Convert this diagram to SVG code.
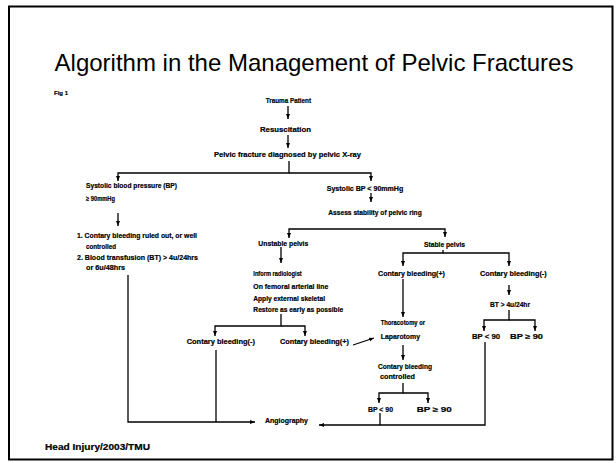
<svg xmlns="http://www.w3.org/2000/svg" width="616" height="463" viewBox="0 0 616 463">
  <style>
    .t{font-family:"Liberation Sans",Arial,sans-serif;font-weight:bold;font-size:7px;fill:#000;stroke:#000;stroke-width:0.2}
    .ttl{font-family:"Liberation Sans",Arial,sans-serif;font-size:24px;fill:#000}
    .c{fill:none;stroke:#000;stroke-width:1.3}
    .a{marker-end:url(#ah)}
  </style>
  <defs>
    <marker id="ah" viewBox="0 0 10 8" markerWidth="5" markerHeight="4.5" refX="10" refY="4" orient="auto" markerUnits="userSpaceOnUse">
      <path d="M0,0L10,4L0,8z" fill="#000"/>
    </marker>
  </defs>

  <!-- page and frame -->
  <rect x="0" y="0" width="616" height="463" fill="#fff"/>
  <rect x="9" y="6.5" width="603.5" height="453" fill="none" stroke="#000" stroke-width="2"/>

  <text class="ttl" x="314" y="71" text-anchor="middle">Algorithm in the Management of Pelvic Fractures</text>
  <text class="t" x="54" y="94.5" style="font-size:6px" textLength="14" lengthAdjust="spacingAndGlyphs">Fig 1</text>

  <!-- connectors -->
  <g id="connectors">
    <path class="c a" d="M288,106V119"/>
    <path class="c a" d="M288,135V148"/>
    <path class="c a" d="M289,161V173H118V181"/>
    <path class="c a" d="M289,173H371V181"/>
    <path class="c a" d="M118,213V226"/>
    <path class="c a" d="M128,275V422H255"/>
    <path class="c" d="M216,350V422"/>
    <path class="c a" d="M371,193V202"/>
    <path class="c a" d="M372,229H289V238"/>
    <path class="c a" d="M372,229H445V237"/>
    <path class="c a" d="M281,247V263"/>
    <path class="c a" d="M281,314V326H215V336"/>
    <path class="c a" d="M281,326H305V336"/>
    <path class="c a" d="M353,345L374,338"/>
    <path class="c a" d="M443,250V253H403V266"/>
    <path class="c a" d="M443,253H509V266"/>
    <path class="c a" d="M403,279V317"/>
    <path class="c a" d="M509,285V295"/>
    <path class="c a" d="M509,310V320H484V331"/>
    <path class="c a" d="M509,320H535V331"/>
    <path class="c a" d="M403,345V360"/>
    <path class="c a" d="M403,383V393H379V403"/>
    <path class="c a" d="M403,393H428V403"/>
    <path class="c" d="M380,413V425"/>
    <path class="c a" d="M485,342V425H319"/>
  </g>

  <g id="trauma"><text class="t" x="265.7" y="102.8" textLength="45.3" lengthAdjust="spacingAndGlyphs">Trauma Patient</text></g>
  <g id="resus"><text class="t" x="260" y="132.3" textLength="51" lengthAdjust="spacingAndGlyphs">Resuscitation</text></g>
  <g id="xray"><text class="t" x="214" y="157.3" textLength="147" lengthAdjust="spacingAndGlyphs">Pelvic fracture diagnosed by pelvic X-ray</text></g>

  <g id="sbp-high">
    <text class="t" x="86" y="188.3" textLength="91" lengthAdjust="spacingAndGlyphs">Systolic blood pressure (BP)</text>
    <text class="t" x="86" y="201.3" textLength="29" lengthAdjust="spacingAndGlyphs">≥ 90mmHg</text>
  </g>
  <g id="criteria">
    <text class="t" x="77" y="238.3" textLength="120" lengthAdjust="spacingAndGlyphs">1. Contary bleeding ruled out, or well</text>
    <text class="t" x="86" y="249.3" textLength="30" lengthAdjust="spacingAndGlyphs">controlled</text>
    <text class="t" x="77" y="260.3" textLength="121" lengthAdjust="spacingAndGlyphs">2. Blood transfusion (BT) &gt; 4u/24hrs</text>
    <text class="t" x="86" y="270.3" textLength="39" lengthAdjust="spacingAndGlyphs">or 6u/48hrs</text>
  </g>

  <g id="sbp-low"><text class="t" x="326.7" y="190.6" textLength="76.6" lengthAdjust="spacingAndGlyphs">Systolic BP &lt; 90mmHg</text></g>
  <g id="assess"><text class="t" x="328.3" y="215" textLength="93.4" lengthAdjust="spacingAndGlyphs">Assess stability of pelvic ring</text></g>

  <g id="unstable"><text class="t" x="258.3" y="245.6" textLength="50" lengthAdjust="spacingAndGlyphs">Unstable pelvis</text></g>
  <g id="unstable-steps">
    <text class="t" x="253.3" y="275.6" textLength="48.4" lengthAdjust="spacingAndGlyphs">Inform radiologist</text>
    <text class="t" x="253.3" y="289" textLength="75" lengthAdjust="spacingAndGlyphs">On femoral arterial line</text>
    <text class="t" x="253.3" y="301.3" textLength="71.7" lengthAdjust="spacingAndGlyphs">Apply external skeletal</text>
    <text class="t" x="253.3" y="312.3" textLength="90" lengthAdjust="spacingAndGlyphs">Restore as early as possible</text>
  </g>
  <g id="u-bleed-neg"><text class="t" x="186.7" y="344" textLength="68.3" lengthAdjust="spacingAndGlyphs">Contary bleeding(-)</text></g>
  <g id="u-bleed-pos"><text class="t" x="280" y="344" textLength="69" lengthAdjust="spacingAndGlyphs">Contary bleeding(+)</text></g>

  <g id="stable"><text class="t" x="424" y="247.3" textLength="41" lengthAdjust="spacingAndGlyphs">Stable pelvis</text></g>
  <g id="s-bleed-pos"><text class="t" x="378" y="275.6" textLength="67" lengthAdjust="spacingAndGlyphs">Contary bleeding(+)</text></g>
  <g id="s-bleed-neg"><text class="t" x="480" y="275.6" textLength="66.7" lengthAdjust="spacingAndGlyphs">Contary bleeding(-)</text></g>
  <g id="bt"><text class="t" x="490" y="307.3" textLength="40" lengthAdjust="spacingAndGlyphs">BT &gt; 4u/24hr</text></g>
  <g id="bt-bp-low"><text class="t" x="472" y="339" textLength="28" lengthAdjust="spacingAndGlyphs">BP &lt; 90</text></g>
  <g id="bt-bp-high"><text class="t" x="510" y="339" textLength="33" lengthAdjust="spacingAndGlyphs">BP ≥ 90</text></g>

  <g id="surgery">
    <text class="t" x="380.7" y="325.3" textLength="44.3" lengthAdjust="spacingAndGlyphs">Thoracotomy or</text>
    <text class="t" x="380.7" y="339" textLength="39.3" lengthAdjust="spacingAndGlyphs">Laparotomy</text>
  </g>
  <g id="controlled">
    <text class="t" x="378" y="369" textLength="54" lengthAdjust="spacingAndGlyphs">Contary bleeding</text>
    <text class="t" x="380" y="379.3" textLength="35" lengthAdjust="spacingAndGlyphs">controlled</text>
  </g>
  <g id="c-bp-low"><text class="t" x="368" y="411.6" textLength="25" lengthAdjust="spacingAndGlyphs">BP &lt; 90</text></g>
  <g id="c-bp-high"><text class="t" x="416.7" y="411.6" textLength="35" lengthAdjust="spacingAndGlyphs">BP ≥ 90</text></g>

  <g id="angio"><text class="t" x="265" y="423.3" textLength="43" lengthAdjust="spacingAndGlyphs">Angiography</text></g>

  <text class="t" x="45" y="450" style="font-size:9px" textLength="105" lengthAdjust="spacingAndGlyphs">Head Injury/2003/TMU</text>
</svg>
